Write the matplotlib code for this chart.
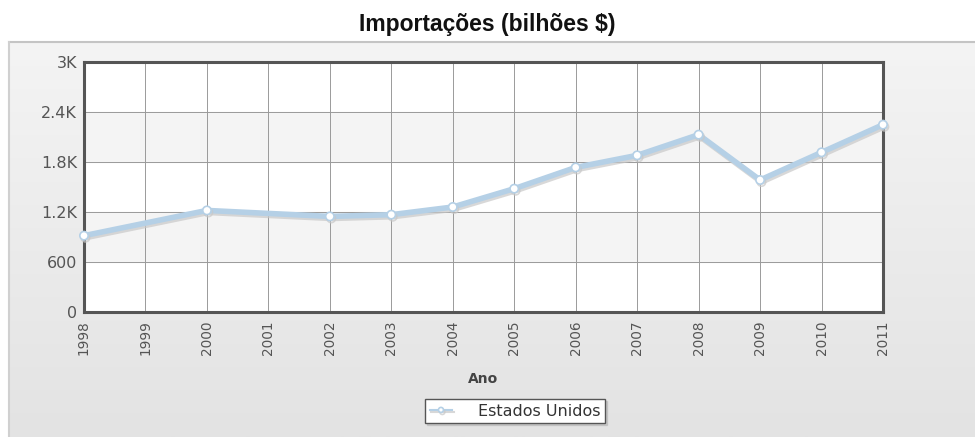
import numpy as np
import matplotlib.pyplot as plt
from matplotlib.colors import LinearSegmentedColormap
import matplotlib.patheffects as pe

# dados (1999 e 2001 sem valor)
anos = [1998, 2000, 2002, 2003, 2004, 2005, 2006, 2007, 2008, 2009, 2010, 2011]
importacoes = [916, 1219, 1147, 1168, 1260, 1480, 1735, 1880, 2128, 1584, 1916, 2248]
anos_ticks = list(range(1998, 2012))
y_ticks = [0, 600, 1200, 1800, 2400, 3000]
y_labels = ['0', '600', '1.2K', '1.8K', '2.4K', '3K']

fig = plt.figure(figsize=(9.75, 4.37), dpi=100)
fig.patch.set_facecolor('white')

# painel cinza com gradiente
px0, py1 = 9 / 975, 1 - 42 / 437
grad = np.linspace(0, 1, 256).reshape(-1, 1)
bg = fig.add_axes([px0, 0, 1 - px0, py1], zorder=0)
bg.imshow(grad, aspect='auto', cmap=LinearSegmentedColormap.from_list('g', ['#f4f4f4', '#e3e3e3']),
          extent=[0, 1, 0, 1], origin='upper')
bg.set_xlim(0, 1)
bg.set_ylim(0, 1)
bg.axis('off')
fig.add_artist(plt.Line2D([px0, 1], [py1, py1], color='#c4c4c4', lw=1.5))
fig.add_artist(plt.Line2D([px0, px0], [0, py1], color='#d0d0d0', lw=1.5))

ax = fig.add_axes([84 / 975, 1 - 312 / 437, 799 / 975, 250 / 437], zorder=1)
ax.set_facecolor('white')

# faixas alternadas
for i in range(len(y_ticks) - 1):
    if i % 2 == 1:
        ax.axhspan(y_ticks[i], y_ticks[i + 1], color='#f4f4f4', zorder=0)

ax.set_xlim(1998, 2011)
ax.set_ylim(0, 3000)
ax.set_xticks(anos_ticks)
ax.set_xticklabels([str(a) for a in anos_ticks], rotation=90)
ax.set_yticks(y_ticks)
ax.set_yticklabels(y_labels)
ax.grid(True, color='#9a9a9a', lw=0.7, zorder=1)
ax.tick_params(length=0, labelcolor='#555555', pad=6)
ax.tick_params(axis='x', labelsize=9.8)
ax.tick_params(axis='y', labelsize=11.5, pad=5)
for s in ax.spines.values():
    s.set_color('#555555')
    s.set_linewidth(2.2)

ax.plot(anos, importacoes, color='#b5d0e6', lw=4, zorder=3, clip_on=False,
        marker='o', markersize=6, markerfacecolor='white', markeredgecolor='#b5d0e6',
        markeredgewidth=1.2, label='Estados Unidos',
        path_effects=[pe.SimpleLineShadow(offset=(1, -1.5), shadow_color='#c8c8c8', alpha=0.7),
                      pe.Normal()])

ax.set_xlabel('Ano', fontsize=10, fontweight='bold', color='#444444', labelpad=12)

fig.text(0.5, 1 - 25 / 437, 'Importações (bilhões $)', ha='center', va='center',
         fontsize=16.5, fontweight='bold', color='#111111', family='Liberation Sans')

leg = fig.legend(*ax.get_legend_handles_labels(), loc='center',
                 bbox_to_anchor=(515 / 975, 1 - 411 / 437), frameon=True,
                 fancybox=False, shadow={'color': '#b0b0b0', 'alpha': 0.5, 'ox': 1.5, 'oy': -1.5},
                 fontsize=11.5, handlelength=1.4, handletextpad=1.6,
                 borderpad=0.3, markerscale=0.6)
leg.get_frame().set_edgecolor('#555555')
leg.get_frame().set_linewidth(1)
for t in leg.get_texts():
    t.set_color('#333333')
for h in leg.legend_handles:
    h.set_linewidth(1.5)

fig.savefig('out.png', dpi=100)
